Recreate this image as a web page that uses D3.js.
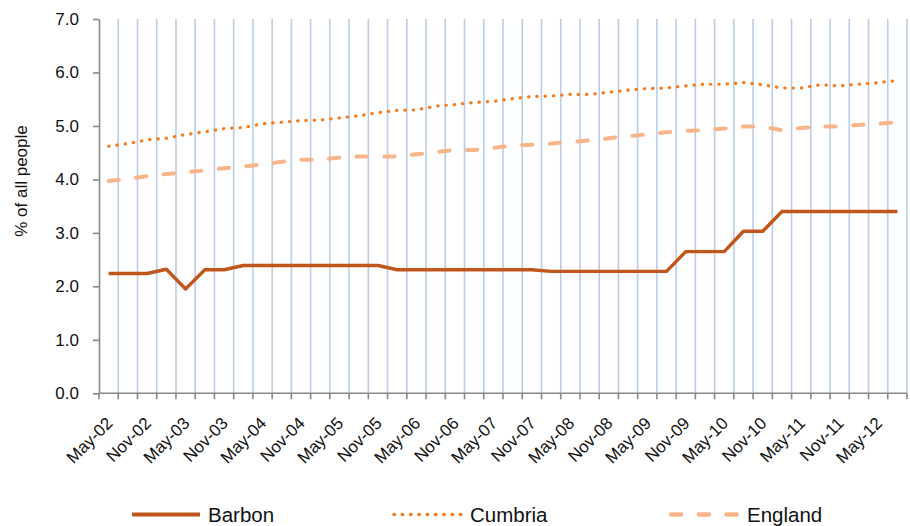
<!DOCTYPE html>
<html>
<head>
<meta charset="utf-8">
<script src="https://cdn.jsdelivr.net/npm/d3@7"></script>
<style>
  body { margin: 0; background: #fff; }
  svg text { font-family: Arial, "Liberation Sans", sans-serif; fill: #111; }
</style>
</head>
<body>
<svg id="chart" width="910" height="526"></svg>
<script>
// quarterly periods, May-02 .. Aug-12
const quarters = [
    "May-02", "Aug-02", "Nov-02", "Feb-03", "May-03", "Aug-03", "Nov-03", "Feb-04",
    "May-04", "Aug-04", "Nov-04", "Feb-05", "May-05", "Aug-05", "Nov-05", "Feb-06",
    "May-06", "Aug-06", "Nov-06", "Feb-07", "May-07", "Aug-07", "Nov-07", "Feb-08",
    "May-08", "Aug-08", "Nov-08", "Feb-09", "May-09", "Aug-09", "Nov-09", "Feb-10",
    "May-10", "Aug-10", "Nov-10", "Feb-11", "May-11", "Aug-11", "Nov-11", "Feb-12",
    "May-12", "Aug-12"
];

const barbon = [
    2.24, 2.24, 2.24, 2.32, 1.95, 2.31, 2.31, 2.39, 2.39, 2.39, 2.39, 2.39, 2.39, 2.39,
    2.39, 2.31, 2.31, 2.31, 2.31, 2.31, 2.31, 2.31, 2.31, 2.28, 2.28, 2.28, 2.28, 2.28,
    2.28, 2.28, 2.65, 2.65, 2.65, 3.03, 3.03, 3.40, 3.40, 3.40, 3.40, 3.40, 3.40, 3.40
];

const cumbria = [
    4.62, 4.67, 4.74, 4.77, 4.84, 4.89, 4.95, 4.97, 5.04, 5.07, 5.10, 5.11, 5.15, 5.19,
    5.25, 5.29, 5.30, 5.37, 5.40, 5.44, 5.46, 5.51, 5.55, 5.56, 5.59, 5.59, 5.63, 5.67,
    5.70, 5.71, 5.75, 5.78, 5.78, 5.81, 5.77, 5.71, 5.71, 5.77, 5.75, 5.78, 5.81, 5.85
];

const england = [
    3.97, 4.01, 4.06, 4.10, 4.13, 4.17, 4.21, 4.24, 4.28, 4.33, 4.37, 4.37, 4.41, 4.43,
    4.43, 4.43, 4.47, 4.51, 4.55, 4.55, 4.59, 4.63, 4.65, 4.67, 4.70, 4.73, 4.77, 4.81,
    4.84, 4.88, 4.91, 4.92, 4.95, 4.99, 4.99, 4.92, 4.96, 4.99, 4.99, 5.02, 5.04, 5.07
];

const yTicks = [0, 1, 2, 3, 4, 5, 6, 7];

const series = [
    { name: "Barbon", values: barbon, color: "#c0561c", width: 3.4, dash: null, cap: "butt" },
    { name: "Cumbria", values: cumbria, color: "#f47d20", width: 3.2, dash: "0.4 7.9", cap: "round" },
    { name: "England", values: england, color: "#f9b58a", width: 4, dash: "10.3 17.4", cap: "round" }
];

const plot = { left: 99, right: 907, top: 19, bottom: 393.3 };
const svg = d3.select("#chart");

const x = d3.scaleBand()
    .domain(quarters)
    .range([plot.left, plot.right])
    .padding(0);

const y = d3.scaleLinear()
    .domain([0, 7])
    .range([plot.bottom, plot.top]);

const cx = d => x(d) + x.bandwidth() / 2;

// vertical gridlines at category boundaries
const bounds = quarters.slice(1).map(q => x(q)).concat([plot.right]);
svg.append("g")
    .selectAll("line")
    .data(bounds)
    .enter()
    .append("line")
    .attr("x1", d => d)
    .attr("x2", d => d)
    .attr("y1", plot.top)
    .attr("y2", plot.bottom)
    .style("stroke", "#b9cde5")
    .style("stroke-width", 1.6);

// y axis
const yAxis = svg.append("g")
    .attr("transform", `translate(${plot.left},0)`)
    .call(d3.axisLeft(y)
        .tickValues(yTicks)
        .tickFormat(d3.format(".1f"))
        .tickSize(6)
        .tickSizeOuter(0)
        .tickPadding(14));
yAxis.select(".domain").style("stroke", "#898989").style("stroke-width", 1.6);
yAxis.selectAll(".tick line").style("stroke", "#898989").style("stroke-width", 1.6);
yAxis.selectAll(".tick text")
    .style("font-size", "17px")
    .style("fill", "#111");

// x axis: tick marks at boundaries
svg.append("line")
    .attr("x1", plot.left)
    .attr("x2", plot.right)
    .attr("y1", plot.bottom)
    .attr("y2", plot.bottom)
    .style("stroke", "#898989")
    .style("stroke-width", 1.6);

svg.append("g")
    .selectAll("line")
    .data([plot.left].concat(bounds))
    .enter()
    .append("line")
    .attr("x1", d => d)
    .attr("x2", d => d)
    .attr("y1", plot.bottom)
    .attr("y2", plot.bottom + 6)
    .style("stroke", "#898989")
    .style("stroke-width", 1.6);

// x labels every other quarter
const xAxis = svg.append("g")
    .attr("transform", `translate(0,${plot.bottom})`)
    .call(d3.axisBottom(x)
        .tickValues(quarters.filter((q, i) => i % 2 === 0 && i < 41))
        .tickSize(0));
xAxis.select(".domain").remove();
xAxis.selectAll(".tick text")
    .attr("x", 0)
    .attr("y", 0)
    .attr("dy", null)
    .attr("text-anchor", "end")
    .attr("transform", "translate(5,31) rotate(-45)")
    .style("font-size", "17px")
    .style("fill", "#111");

// y axis title
svg.append("text")
    .attr("transform", "translate(27,181) rotate(-90)")
    .attr("text-anchor", "middle")
    .style("font-size", "17px")
    .text("% of all people");

// lines
const line = d3.line()
    .x((d, i) => cx(quarters[i]))
    .y(d => y(d));

series.slice().reverse().forEach(s => {
    svg.append("path")
        .datum(s.values)
        .attr("d", line)
        .style("fill", "none")
        .style("stroke", s.color)
        .style("stroke-width", s.width)
        .style("stroke-dasharray", s.dash)
        .style("stroke-linecap", s.cap)
        .style("stroke-linejoin", "round");
});

// legend
const legendX = [132, 394, 671];
const legend = svg.append("g");
series.forEach((s, i) => {
    const row = legend.append("g")
        .attr("transform", `translate(${legendX[i]},514.5)`);
    row.append("line")
        .attr("x1", 0)
        .attr("x2", 68)
        .style("stroke", s.color)
        .style("stroke-width", s.width + 0.4)
        .style("stroke-dasharray", s.dash)
        .style("stroke-linecap", s.cap);
    row.append("text")
        .attr("x", 76)
        .attr("y", 7.5)
        .style("font-size", "20.5px")
        .text(s.name);
});
</script>
</body>
</html>
